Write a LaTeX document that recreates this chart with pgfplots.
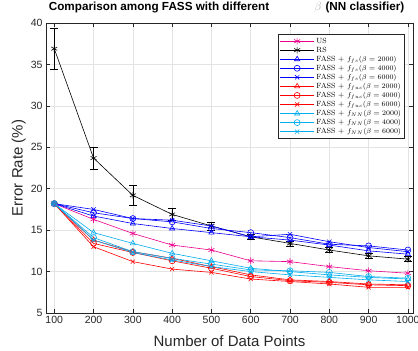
\documentclass[border=0pt]{standalone}
\usepackage{fontspec}
\usepackage{pgfplots}
\usepackage{pgfplotstable}
\pgfplotsset{compat=1.18}
\newfontfamily\arial{Liberation Sans}
\definecolor{axgray}{rgb}{0.15,0.15,0.15}

\pgfplotstableread{
x US RS RSe FSa FSb FSc FUa FUb FUc NNa NNb NNc
100 18.2 36.9 2.5 18.2 18.2 18.2 18.2 18.2 18.2 18.2 18.2 18.2
200 16.3 23.7 1.3 16.7 17.1 17.5 13.8 13.4 13.0 14.7 14.1 13.8
300 14.6 19.2 1.2 15.8 16.4 16.4 12.4 12.3 11.2 13.4 12.4 12.3
400 13.2 16.9 0.7 15.2 16.0 16.2 11.6 11.3 10.3 12.2 11.6 11.4
500 12.6 15.5 0.5 14.7 15.2 15.5 10.6 10.4 9.9 11.3 10.9 10.6
600 11.3 14.2 0.3 14.2 14.7 14.2 9.6 9.4 9.1 10.4 10.2 10.0
700 11.2 13.4 0.3 13.8 14.1 14.5 9.0 8.9 8.8 10.0 10.1 9.6
800 10.6 12.6 0.3 13.2 13.3 13.6 8.8 8.7 8.5 9.6 9.9 9.3
900 10.1 11.9 0.3 12.5 13.1 12.9 8.5 8.4 8.1 9.3 9.4 9.0
1000 9.8 11.5 0.3 12.1 12.6 12.4 8.4 8.3 8.1 9.1 9.2 8.8
}\datatable

\begin{document}
\begin{tikzpicture}
\begin{axis}[
  name=ax, at={(0,0)}, anchor=south west,
  scale only axis, width=367pt, height=290pt,
  xmin=79, xmax=1013, ymin=5, ymax=40,
  xtick={100,200,...,1000}, ytick={5,10,...,40},
  grid=major, grid style={color=gray!22, line width=0.5pt},
  axis line style={color=axgray, line width=0.6pt},
  tick style={color=axgray, line width=0.5pt},
  tick align=inside, major tick length=4pt, tick pos=both,
  /pgf/number format/assume math mode=true,
  /pgf/number format/1000 sep={},
  tick label style={font=\arial\fontsize{10.5}{12}\selectfont, text=axgray},
  xlabel={Number of Data Points},
  ylabel={Error Rate (\%)},
  xlabel style={font=\arial\fontsize{15}{17}\selectfont, text=axgray, at={(axis description cs:0.5,-0.098)}, anchor=center},
  ylabel style={font=\arial\fontsize{15}{17}\selectfont, text=axgray, at={(axis description cs:-0.074,0.5)}, anchor=center},
  title={{\bfseries Comparison among FASS with different}\hspace{45pt}{\color{gray!60}\normalfont$\beta$}\hspace{4pt}{\bfseries (NN classifier)}},
  title style={font=\arial\fontsize{11.7}{13}\selectfont, at={(axis description cs:0.492,1.032)}, anchor=center},
  every axis plot/.append style={line width=0.6pt, mark size=3pt, mark options={solid}},
  legend image code/.code={\draw[mark repeat=2,mark phase=2] plot coordinates {(0pt,0pt) (17pt,0pt) (34pt,0pt)};},
  legend style={at={(axis description cs:0.978,0.962)}, anchor=north east, draw=axgray, line width=0.6pt,
    font=\fontsize{7.5}{8.5}\selectfont, row sep=-1.8pt, inner sep=1.5pt, fill=white, cells={anchor=west}},
]
\addplot[magenta, mark=asterisk, mark size=3.4pt] table[x=x,y=US] {\datatable};
\addlegendentry{US}
\addplot[black, mark=asterisk, mark size=3.4pt, error bars/.cd, y dir=both, y explicit, error bar style={line width=0.6pt, black}, error mark options={rotate=90, mark size=4pt, black, line width=0.6pt}] table[x=x,y=RS,y error=RSe] {\datatable};
\addlegendentry{RS}
\addplot[blue, mark=triangle] table[x=x,y=FSa] {\datatable};
\addlegendentry{FASS + $f_{fs}(\beta = 2000)$}
\addplot[blue, mark=o] table[x=x,y=FSb] {\datatable};
\addlegendentry{FASS + $f_{fs}(\beta = 4000)$}
\addplot[blue, mark=x] table[x=x,y=FSc] {\datatable};
\addlegendentry{FASS + $f_{fs}(\beta = 6000)$}
\addplot[red, mark=triangle] table[x=x,y=FUa] {\datatable};
\addlegendentry{FASS + $f_{fuc}(\beta = 2000)$}
\addplot[red, mark=o] table[x=x,y=FUb] {\datatable};
\addlegendentry{FASS + $f_{fuc}(\beta = 4000)$}
\addplot[red, mark=x] table[x=x,y=FUc] {\datatable};
\addlegendentry{FASS + $f_{fuc}(\beta = 6000)$}
\addplot[cyan, mark=triangle] table[x=x,y=NNa] {\datatable};
\addlegendentry{FASS + $f_{NN}(\beta = 2000)$}
\addplot[cyan, mark=o] table[x=x,y=NNb] {\datatable};
\addlegendentry{FASS + $f_{NN}(\beta = 4000)$}
\addplot[cyan, mark=x] table[x=x,y=NNc] {\datatable};
\addlegendentry{FASS + $f_{NN}(\beta = 6000)$}
\end{axis}
\pgfresetboundingbox
\path[use as bounding box] (-46pt,-38pt) rectangle (372pt,313pt);
\end{tikzpicture}
\end{document}
